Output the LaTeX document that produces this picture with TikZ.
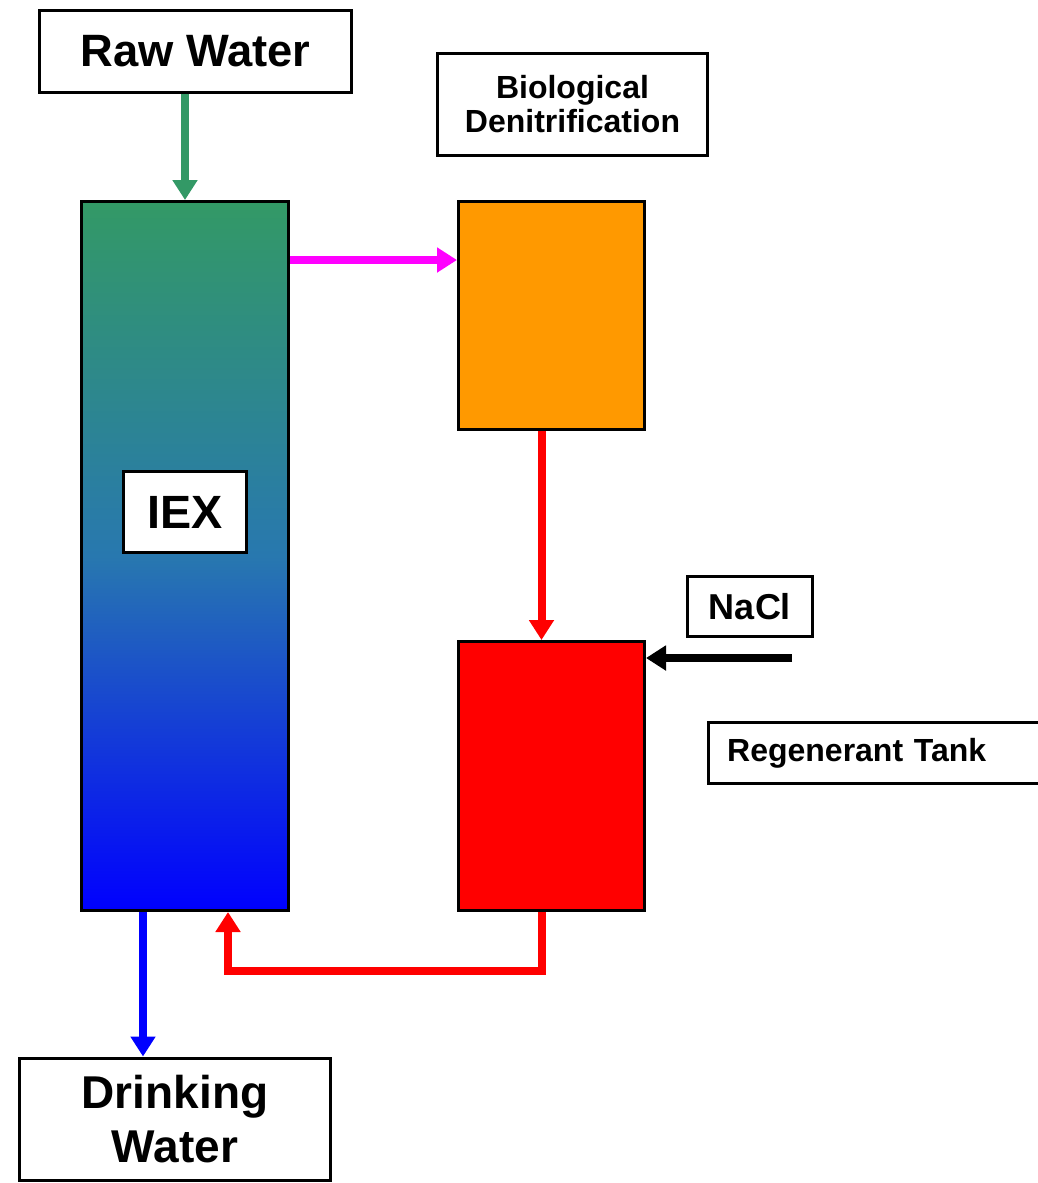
\documentclass[tikz,border=0pt]{standalone}
\usepackage{fontspec}
\setmainfont{Liberation Sans}
\usetikzlibrary{arrows.meta}

\definecolor{iexgreen}{RGB}{51,153,102}
\definecolor{iexmid}{RGB}{40,120,175}
\definecolor{bioorange}{RGB}{255,153,0}
\definecolor{feedpink}{RGB}{255,0,255}

\tikzset{
  tag/.style={draw, line width=2.25pt, fill=white, inner sep=0pt, align=center, font=\bfseries},
  vessel/.style={draw, line width=2.25pt, inner sep=0pt},
  flow/.style={line width=6pt, -{Triangle[width=18pt,length=15pt]}}
}

\begin{document}
\begin{tikzpicture}[x=0.75pt,y=0.75pt,yscale=-1,xscale=1]
    \useasboundingbox (0,0) rectangle (1038,1183);
    \clip (0,0) rectangle (1038,1183);

    %Shape: Vessels
    \node (iex) [vessel, minimum width=155.25pt, minimum height=531.75pt, top color=iexgreen, bottom color=blue, middle color=iexmid] at (185,556) {};
    \node (biobox) [vessel, fill=bioorange, minimum width=139.5pt, minimum height=171pt] at (551.5,315.5) {};
    \node (tank) [vessel, fill=red, minimum width=139.5pt, minimum height=201.75pt] at (551.5,776) {};

    % Text Node
    \node (raw) [tag, minimum width=234pt, minimum height=61.5pt, font=\bfseries\fontsize{34}{40}\selectfont] at (195.5,51.5) {Raw Water};
    % Text Node
    \node (biolbl) [tag, minimum width=202.5pt, minimum height=76.5pt, font=\bfseries\fontsize{24}{25.5}\selectfont] at (572.5,104.5) {Biological\\Denitrification};
    % Text Node
    \node (iexlbl) [tag, minimum width=92.25pt, minimum height=60.75pt, font=\bfseries\fontsize{35}{40}\selectfont] at (185,512) {IEX};
    % Text Node
    \node (nacl) [tag, minimum width=93.75pt, minimum height=45pt, font=\bfseries\fontsize{27}{30}\selectfont] at (750,606.5) {NaCl};
    % Text Node
    \node (regen) [tag, align=left, text width=227pt, inner xsep=13.9pt, minimum height=45.75pt, font=\bfseries\fontsize{24}{27}\selectfont] at (878.5,753) {Regenerant Tank};
    % Text Node
    \node (drink) [tag, minimum width=233.25pt, minimum height=91.5pt, font=\bfseries\fontsize{34.5}{40}\selectfont] at (175,1119) {Drinking\\Water};

    %Connectors
    \coordinate (saltin) at (792,658);
    \draw [flow, iexgreen] (iex.north |- raw.south) -- (iex.north);
    \draw [flow, feedpink] ([yshift=45pt]iex.north east) -- ([yshift=45pt]biobox.north west);
    \draw [flow, red] ([xshift=-7.5pt]biobox.south) -- ([xshift=-7.5pt]tank.north);
    \draw [flow, black] (saltin) -- (saltin -| tank.east);
    \draw [flow, blue] ([xshift=-31.5pt]iex.south) -- ([xshift=-31.5pt]iex.south |- drink.north);
    \draw [flow, red] ([xshift=-7.5pt]tank.south) -- ++(0,59) -| ([xshift=32.25pt]iex.south);

\end{tikzpicture}
\end{document}
